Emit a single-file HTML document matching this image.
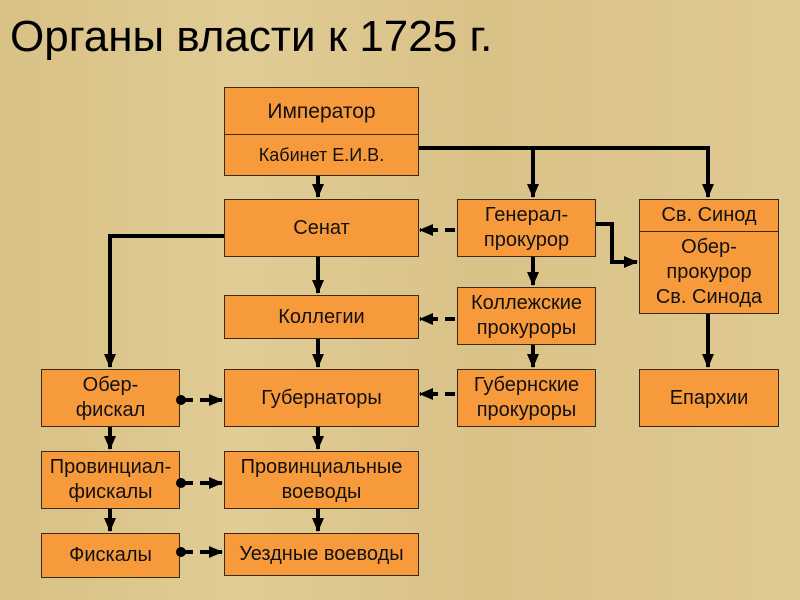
<!DOCTYPE html>
<html><head><meta charset="utf-8"><style>
body{margin:0;width:800px;height:600px;overflow:hidden;background:#dcc78f;font-family:"Liberation Sans",sans-serif;}
.bg{position:absolute;left:0;top:0;width:800px;height:600px;background:linear-gradient(90deg,#d8c185,#e0cc95 30%,#d9c288 60%,#dfca92);}
.b{position:absolute;background:#f79a3c;border:1.5px solid #3a2a10;box-sizing:border-box;display:flex;align-items:center;justify-content:center;text-align:center;font-size:20px;line-height:25px;color:#111;}
h1{position:absolute;left:10px;top:12px;margin:0;font-weight:normal;font-size:44px;color:#000;}
svg{position:absolute;left:0;top:0;}
</style></head><body>
<div class="bg"></div>
<h1>Органы власти к 1725 г.</h1>
<svg width="800" height="600">
<defs>
<marker id="a2" markerWidth="14" markerHeight="12" refX="13" refY="6" orient="auto" markerUnits="userSpaceOnUse"><path d="M0,0L14,6L0,12z" fill="#000"/></marker></defs>
<g stroke="#000" stroke-width="4" fill="none">
<path d="M318,175V197" marker-end="url(#a2)"/>
<path d="M318,256V293" marker-end="url(#a2)"/>
<path d="M318,338V367" marker-end="url(#a2)"/>
<path d="M318,426V449" marker-end="url(#a2)"/>
<path d="M318,508V531" marker-end="url(#a2)"/>
<path d="M110,426V449" marker-end="url(#a2)"/>
<path d="M110,508V531" marker-end="url(#a2)"/>
<path d="M418,148H708V197" marker-end="url(#a2)"/>
<path d="M533,148V197" marker-end="url(#a2)"/>
<path d="M533,256V285" marker-end="url(#a2)"/>
<path d="M533,344V367" marker-end="url(#a2)"/>
<path d="M708,313V367" marker-end="url(#a2)"/>
<path d="M224,236H110V367" marker-end="url(#a2)"/>
<path d="M595,224H612V262H637" marker-end="url(#a2)"/>
<path d="M455,230H420" stroke-dasharray="10,7" marker-end="url(#a2)"/>
<path d="M455,319H420" stroke-dasharray="10,7" marker-end="url(#a2)"/>
<path d="M455,394H420" stroke-dasharray="10,7" marker-end="url(#a2)"/>
<path d="M183,400H222" stroke-dasharray="10,7" marker-end="url(#a2)"/>
<path d="M183,483H222" stroke-dasharray="10,7" marker-end="url(#a2)"/>
<path d="M183,552H222" stroke-dasharray="10,7" marker-end="url(#a2)"/>
</g>
</svg>
<div class="b" style="left:224px;top:87px;width:195px;height:48px;font-size:21px">Император</div>
<div class="b" style="left:224px;top:134px;width:195px;height:42px;font-size:18px">Кабинет Е.И.В.</div>
<div class="b" style="left:224px;top:199px;width:195px;height:58px">Сенат</div>
<div class="b" style="left:224px;top:295px;width:195px;height:44px">Коллегии</div>
<div class="b" style="left:224px;top:369px;width:195px;height:58px">Губернаторы</div>
<div class="b" style="left:224px;top:451px;width:195px;height:58px">Провинциальные<br>воеводы</div>
<div class="b" style="left:224px;top:533px;width:195px;height:43px">Уездные воеводы</div>
<div class="b" style="left:41px;top:369px;width:139px;height:58px">Обер-<br>фискал</div>
<div class="b" style="left:41px;top:451px;width:139px;height:58px">Провинциал-<br>фискалы</div>
<div class="b" style="left:41px;top:533px;width:139px;height:45px">Фискалы</div>
<div class="b" style="left:457px;top:199px;width:139px;height:58px">Генерал-<br>прокурор</div>
<div class="b" style="left:457px;top:287px;width:139px;height:58px">Коллежские<br>прокуроры</div>
<div class="b" style="left:457px;top:369px;width:139px;height:58px">Губернские<br>прокуроры</div>
<div class="b" style="left:639px;top:199px;width:140px;height:33px">Св. Синод</div>
<div class="b" style="left:639px;top:231px;width:140px;height:83px">Обер-<br>прокурор<br>Св. Синода</div>
<div class="b" style="left:639px;top:369px;width:140px;height:58px">Епархии</div>
<svg width="800" height="600"><g fill="#000"><circle cx="181" cy="400" r="5"/><circle cx="181" cy="483" r="5"/><circle cx="181" cy="552" r="5"/></g></svg>
</body></html>
